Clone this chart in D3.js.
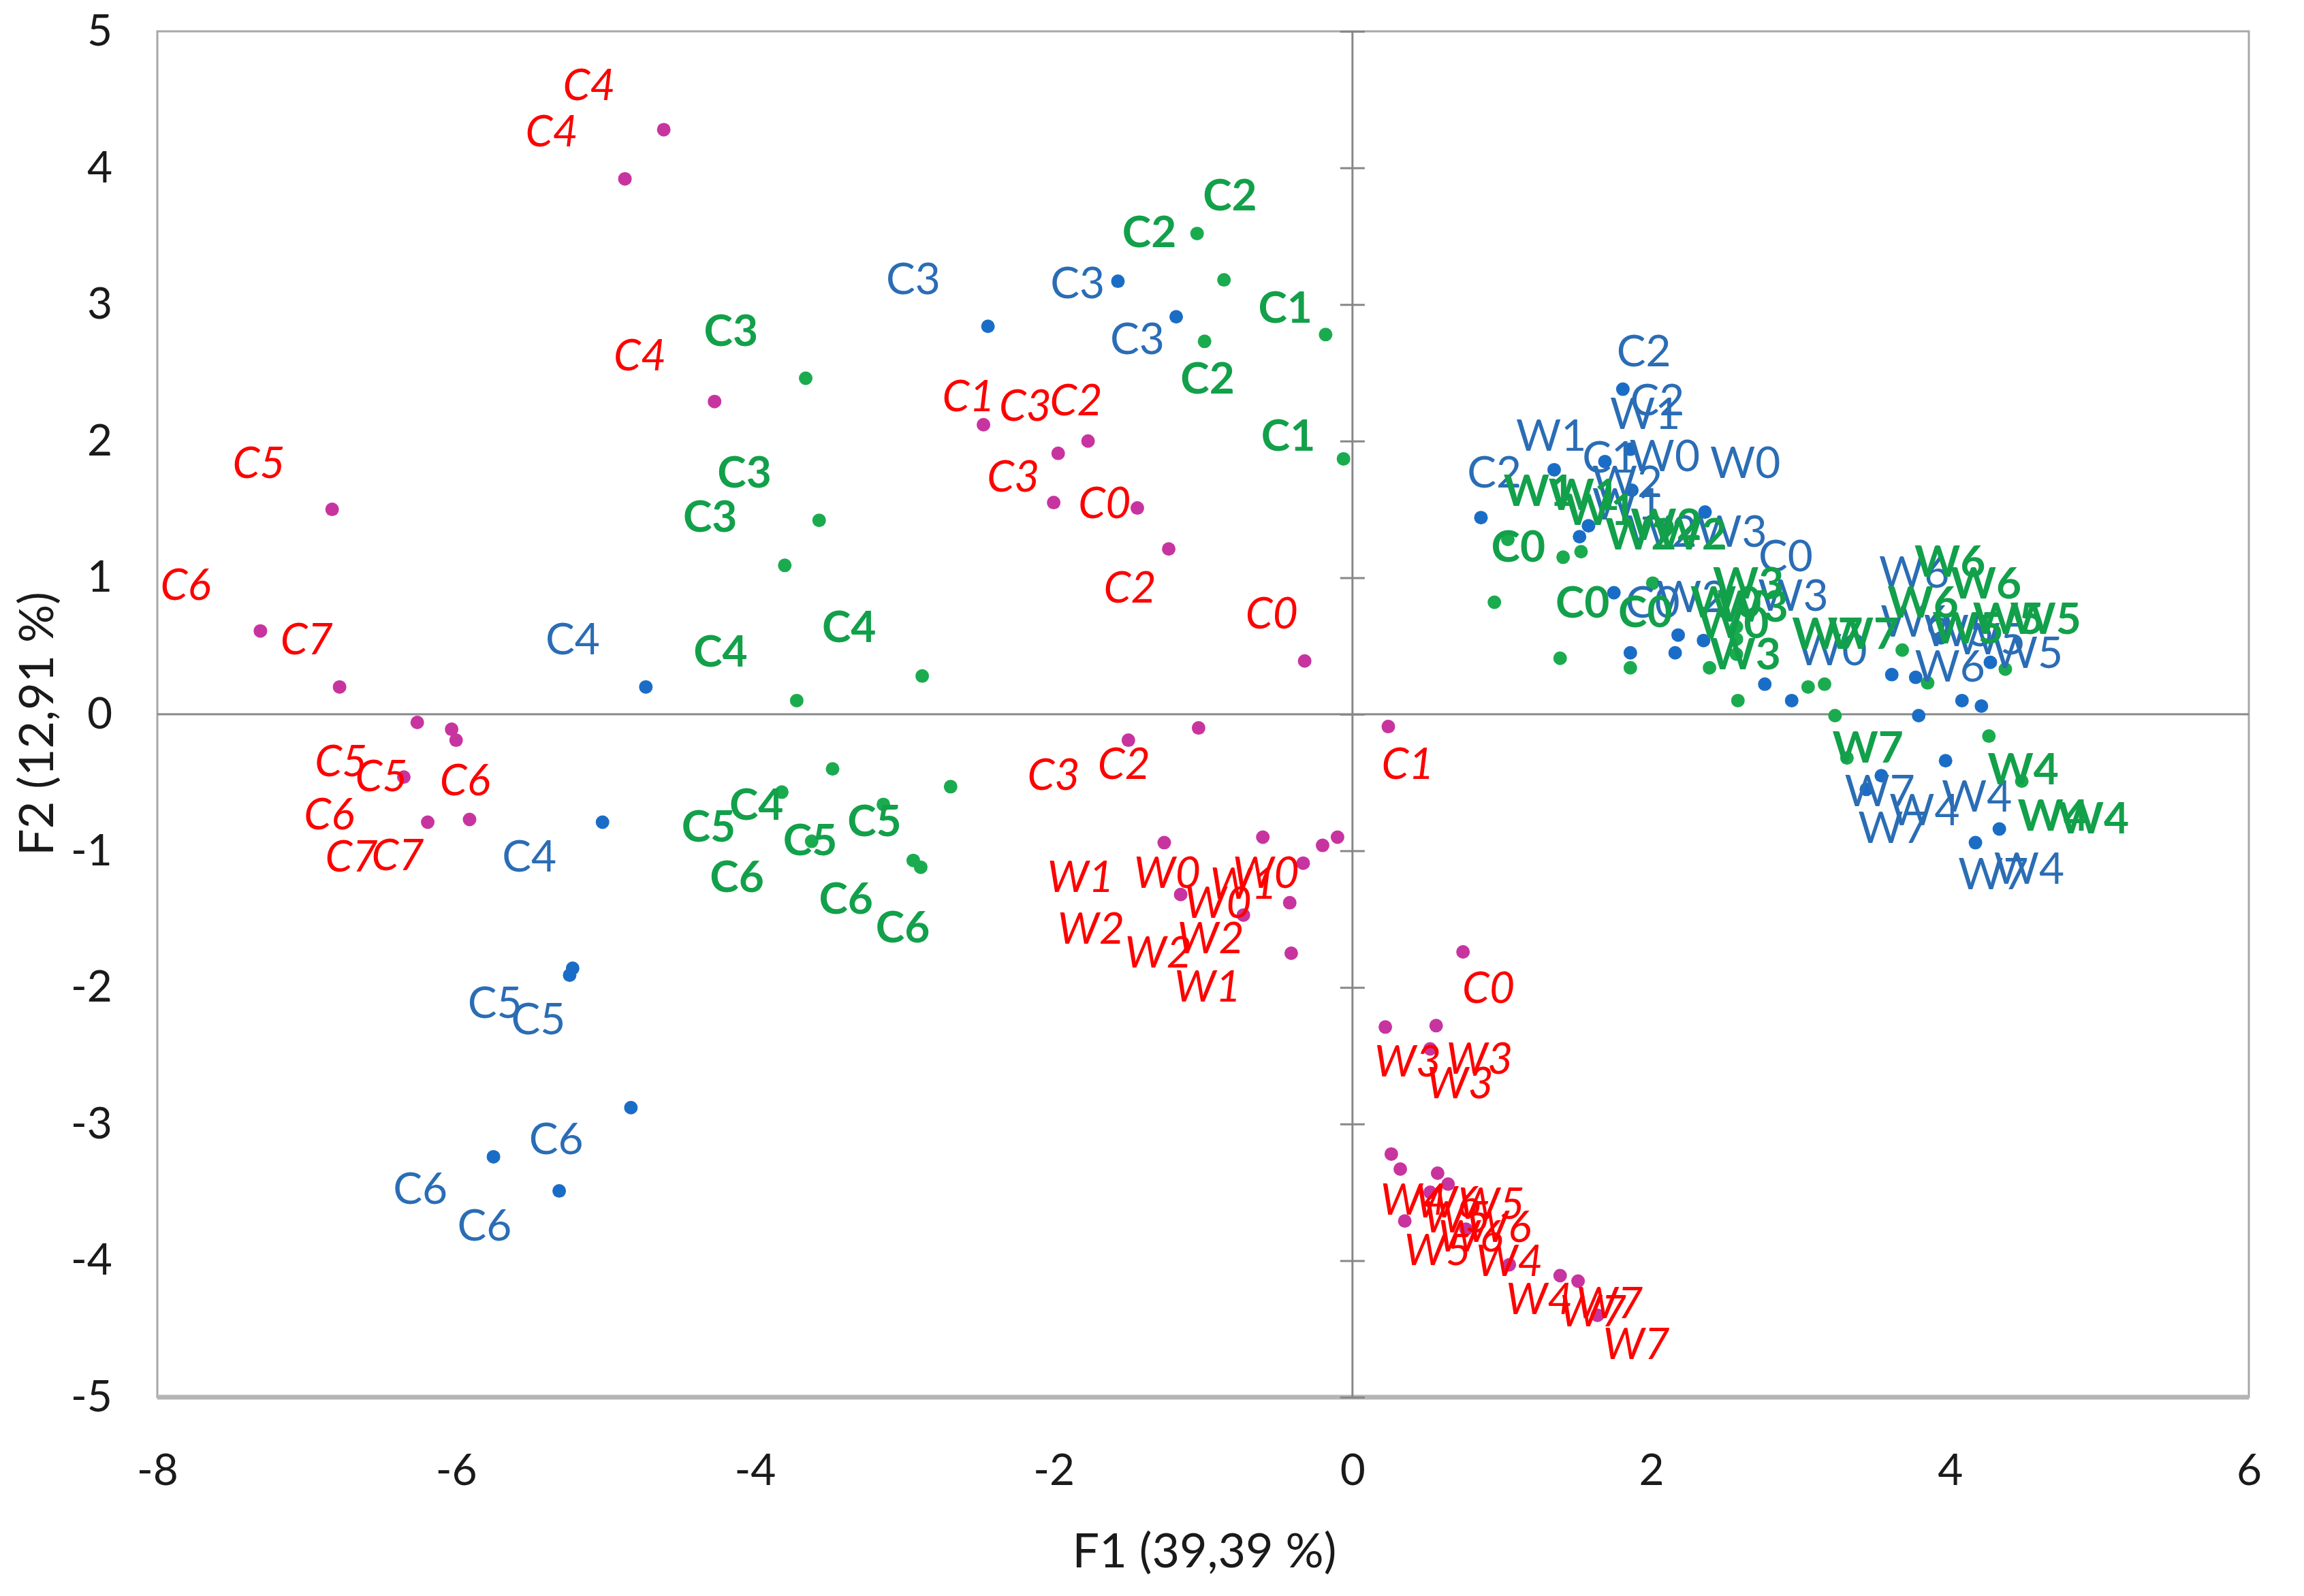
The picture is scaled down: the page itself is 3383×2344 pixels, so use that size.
<!DOCTYPE html>
<html>
<head>
<meta charset="utf-8">
<script src="https://cdn.jsdelivr.net/npm/d3@7"></script>
<style>
  html, body { margin: 0; padding: 0; background: #fff; }
  svg text { font-family: Lato, "Open Sans", sans-serif; }
</style>
</head>
<body>
<svg id="chart" width="3383" height="2344"></svg>
<script>
// axis ticks
const xTicks = [-8, -6, -4, -2, 0, 2, 4, 6];
const yTicks = [-5, -4, -3, -2, -1, 0, 1, 2, 3, 4, 5];
const xTitle = "F1 (39,39 %)";
const yTitle = "F2 (12,91 %)";

// red series (italic labels, magenta markers)
const redPoints = [
  [-4.61, 4.28], [-4.87, 3.92], [-6.83, 1.50], [-7.31, 0.61], [-6.78, 0.20],
  [-6.26, -0.06], [-6.03, -0.11], [-6.00, -0.19], [-6.35, -0.46], [-6.19, -0.79], [-5.91, -0.77],
  [-4.27, 2.29], [-2.47, 2.12], [-1.97, 1.91], [-1.77, 2.00], [-2.00, 1.55], [-1.44, 1.51], [-1.23, 1.21], [-0.32, 0.39],
  [-1.03, -0.10], [-1.50, -0.19], [0.24, -0.09], [0.74, -1.74],
  [-1.26, -0.94], [-0.60, -0.90], [-0.33, -1.09], [-0.20, -0.96], [-0.10, -0.90], [-1.15, -1.32], [-0.73, -1.47], [-0.42, -1.38], [-0.41, -1.75],
  [0.22, -2.29], [0.56, -2.28], [0.52, -2.45],
  [0.26, -3.22], [0.32, -3.33], [0.57, -3.36], [0.64, -3.44], [0.52, -3.50], [0.35, -3.71], [0.76, -3.77],
  [1.05, -4.03], [1.39, -4.11], [1.51, -4.15], [1.64, -4.40]
];
const redLabels = [
  ["C4", -5.11, 4.62], ["C4", -5.36, 4.28], ["C4", -4.77, 2.64], ["C5", -7.32, 1.85], ["C6", -7.81, 0.96], ["C7", -7.00, 0.56],
  ["C5", -6.77, -0.33], ["C5", -6.50, -0.44], ["C6", -5.94, -0.47], ["C6", -6.85, -0.72], ["C7", -6.70, -1.03], ["C7", -6.39, -1.02],
  ["C1", -2.57, 2.34], ["C3", -2.19, 2.27], ["C2", -1.85, 2.31], ["C3", -2.27, 1.75], ["C0", -1.66, 1.56], ["C2", -1.49, 0.94], ["C0", -0.54, 0.75],
  ["C3", -2.00, -0.43], ["C2", -1.53, -0.35], ["C1", 0.37, -0.35], ["C0", 0.91, -1.99],
  ["W1", -1.82, -1.18], ["W0", -1.24, -1.15], ["W0", -0.58, -1.15], ["W1", -0.73, -1.23], ["W0", -0.90, -1.37],
  ["W2", -1.75, -1.56], ["W2", -1.30, -1.73], ["W2", -0.95, -1.63], ["W1", -0.97, -1.98],
  ["W3", 0.37, -2.53], ["W3", 0.85, -2.51], ["W3", 0.72, -2.69],
  ["W4", 0.41, -3.54], ["W5", 0.93, -3.57], ["W5", 0.70, -3.67], ["W5", 0.57, -3.91], ["W6", 0.98, -3.74], ["W6", 0.79, -3.81],
  ["W6", 0.64, -3.56], ["W4", 1.05, -3.99], ["W4", 1.25, -4.27], ["W7", 1.72, -4.30], ["W7", 1.90, -4.60], ["W7", 1.61, -4.36]
];

// blue series
const bluePoints = [
  [-4.73, 0.20], [-5.02, -0.79], [-5.22, -1.86], [-5.24, -1.91], [-4.83, -2.88], [-5.75, -3.24], [-5.31, -3.49],
  [-1.57, 3.17], [-1.18, 2.91], [-2.44, 2.84],
  [1.81, 2.38], [1.35, 1.79], [0.86, 1.44], [1.69, 1.85], [1.86, 1.94], [1.58, 1.38], [1.52, 1.30], [2.36, 1.48],
  [1.87, 1.64], [1.75, 0.89], [2.18, 0.58], [2.16, 0.45], [2.35, 0.54], [1.86, 0.45], [2.76, 0.22], [2.94, 0.10],
  [3.61, 0.29], [3.77, 0.27], [3.79, -0.01], [4.08, 0.10], [4.21, 0.06], [3.94, 0.56], [4.27, 0.38],
  [3.97, -0.34], [3.54, -0.45], [3.44, -0.55], [4.33, -0.84], [4.17, -0.94]
];
const blueLabels = [
  ["C4", -5.22, 0.56], ["C4", -5.51, -1.03], ["C5", -5.74, -2.10], ["C5", -5.45, -2.22],
  ["C6", -5.33, -3.10], ["C6", -6.24, -3.46], ["C6", -5.81, -3.73],
  ["C3", -2.94, 3.20], ["C3", -1.84, 3.17], ["C3", -1.44, 2.76],
  ["C2", 1.95, 2.67], ["C2", 2.04, 2.31], ["C2", 0.95, 1.78], ["C1", 1.72, 1.89],
  ["W1", 1.96, 2.21], ["W1", 1.33, 2.05], ["W1", 1.84, 1.55],
  ["W0", 2.09, 1.90], ["W0", 2.63, 1.85], ["W0", 3.21, 0.48],
  ["W2", 1.84, 1.71], ["W2", 2.07, 1.35], ["W2", 2.27, 0.87],
  ["W3", 2.54, 1.35], ["W3", 2.95, 0.88], ["C0", 2.90, 1.17], ["C0", 2.01, 0.83],
  ["W6", 3.76, 1.05], ["W6", 3.77, 0.69], ["W6", 4.00, 0.36],
  ["W5", 4.52, 0.46], ["W5", 4.27, 0.56], ["W5", 4.06, 0.62],
  ["W7", 3.53, -0.55], ["W7", 3.62, -0.82], ["W7", 4.29, -1.16],
  ["W4", 3.83, -0.69], ["W4", 4.18, -0.59], ["W4", 4.53, -1.12]
];

// green series (bold labels)
const greenPoints = [
  [-1.04, 3.52], [-0.86, 3.18], [-0.99, 2.73], [-0.18, 2.78], [-0.06, 1.87],
  [-3.66, 2.46], [-3.57, 1.42], [-3.80, 1.09], [-2.88, 0.28], [-3.72, 0.10],
  [-3.48, -0.40], [-2.69, -0.53], [-3.82, -0.57], [-3.62, -0.93], [-2.94, -1.07], [-2.89, -1.12], [-3.14, -0.66],
  [1.04, 1.28], [0.95, 0.82], [1.41, 1.15], [1.53, 1.19], [1.39, 0.41], [1.86, 0.34], [2.01, 0.96], [2.39, 0.34],
  [2.58, 0.10], [3.05, 0.20], [3.16, 0.22], [2.57, 0.64], [2.57, 0.55], [2.57, 0.44], [3.23, -0.01],
  [3.31, -0.32], [3.68, 0.47], [3.85, 0.23], [4.26, -0.16], [4.37, 0.33], [4.48, -0.49]
];
const greenLabels = [
  ["C2", -0.82, 3.81], ["C2", -1.36, 3.54], ["C1", -0.45, 2.99], ["C2", -0.97, 2.47], ["C1", -0.43, 2.05],
  ["C3", -4.16, 2.82], ["C3", -4.07, 1.78], ["C3", -4.30, 1.46], ["C4", -3.37, 0.65], ["C4", -4.23, 0.47],
  ["C5", -4.31, -0.81], ["C4", -3.99, -0.65], ["C5", -3.63, -0.91], ["C5", -3.20, -0.77],
  ["C6", -4.12, -1.18], ["C6", -3.39, -1.34], ["C6", -3.01, -1.55],
  ["C0", 1.11, 1.24], ["C0", 1.54, 0.83], ["C0", 1.96, 0.76],
  ["W1", 1.25, 1.65], ["W1", 1.66, 1.51], ["W1", 1.55, 1.62],
  ["W2", 1.93, 1.33], ["W2", 2.27, 1.33], ["W2", 2.10, 1.40],
  ["W0", 2.50, 0.83], ["W0", 2.55, 0.68], ["W3", 2.65, 0.97], ["W3", 2.68, 0.80], ["W3", 2.63, 0.45],
  ["W7", 3.18, 0.60], ["W7", 3.42, 0.60], ["W7", 3.45, -0.23],
  ["W6", 4.00, 1.13], ["W6", 4.24, 0.97], ["W6", 3.82, 0.83],
  ["W5", 4.64, 0.71], ["W5", 4.39, 0.71], ["W5", 4.12, 0.64],
  ["W4", 4.49, -0.39], ["W4", 4.69, -0.73], ["W4", 4.96, -0.75]
];

const svg = d3.select("#chart");
const width = +svg.attr("width");
const height = +svg.attr("height");
const margin = {top: 46, right: 81, bottom: 292, left: 231};
const fontSize = 64;
const titleSize = 70;

const x = d3.scaleLinear().domain([-8, 6]).range([margin.left, width - margin.right]);
const y = d3.scaleLinear().domain([-5, 5]).range([height - margin.bottom, margin.top]);

svg.append("rect").attr("width", width).attr("height", height).attr("fill", "#fff");

// frame
svg.append("rect")
  .attr("x", x(-8)).attr("y", y(5))
  .attr("width", x(6) - x(-8)).attr("height", y(-5) - y(5))
  .attr("fill", "none").attr("stroke", "#a8a8a8").attr("stroke-width", 3);
svg.append("line")
  .attr("x1", x(-8)).attr("x2", x(6)).attr("y1", y(-5)).attr("y2", y(-5))
  .attr("stroke", "#b5b5b5").attr("stroke-width", 7);

// zero lines
svg.append("line")
  .attr("x1", x(-8)).attr("x2", x(6)).attr("y1", y(0)).attr("y2", y(0))
  .attr("stroke", "#878787").attr("stroke-width", 3);
svg.append("line")
  .attr("x1", x(0)).attr("x2", x(0)).attr("y1", y(5)).attr("y2", y(-5))
  .attr("stroke", "#878787").attr("stroke-width", 3);

// tick marks across the vertical zero line
svg.append("g")
  .attr("transform", `translate(${x(0) + 18},0)`)
  .call(d3.axisLeft(y).tickValues(yTicks).tickSize(36).tickFormat(""))
  .call(g => g.select(".domain").remove())
  .call(g => g.selectAll("line").attr("stroke", "#878787").attr("stroke-width", 3));

// y tick labels
svg.append("g")
  .attr("transform", `translate(${margin.left},0)`)
  .call(d3.axisLeft(y).tickValues(yTicks).tickSize(0).tickPadding(66).tickFormat(d => String(d)))
  .call(g => g.select(".domain").remove())
  .call(g => g.selectAll("text").attr("font-size", fontSize).attr("fill", "#1a1a1a")
    .attr("font-family", "Lato, 'Open Sans', sans-serif"));

// x tick labels
svg.append("g")
  .attr("transform", `translate(0,${y(-5)})`)
  .call(d3.axisBottom(x).tickValues(xTicks).tickSize(0).tickPadding(84).tickFormat(d => String(d)))
  .call(g => g.select(".domain").remove())
  .call(g => g.selectAll("text").attr("font-size", fontSize).attr("fill", "#1a1a1a")
    .attr("font-family", "Lato, 'Open Sans', sans-serif"));

// axis titles
svg.append("text")
  .attr("x", (x(-8) + x(6)) / 2 + 2).attr("y", 2302)
  .attr("text-anchor", "middle").attr("font-size", titleSize).attr("fill", "#1a1a1a")
  .text(xTitle);
svg.append("text")
  .attr("transform", `translate(78,${(y(5) + y(-5)) / 2 + 14}) rotate(-90)`)
  .attr("text-anchor", "middle").attr("font-size", titleSize).attr("fill", "#1a1a1a")
  .text(yTitle);

const series = [
  {points: redPoints, labels: redLabels, dot: "#c8349f", text: "#ff0000", style: "italic", weight: "normal"},
  {points: bluePoints, labels: blueLabels, dot: "#1a6dc6", text: "#2a6db5", style: "normal", weight: "normal"},
  {points: greenPoints, labels: greenLabels, dot: "#1aab4e", text: "#12a04a", style: "normal", weight: "bold"}
];

// markers
series.forEach(s => {
  svg.append("g").selectAll("circle")
    .data(s.points)
    .enter().append("circle")
    .attr("cx", d => x(d[0]))
    .attr("cy", d => y(d[1]))
    .attr("r", 10)
    .attr("fill", s.dot);
});

// data labels
series.forEach(s => {
  svg.append("g").selectAll("text")
    .data(s.labels)
    .enter().append("text")
    .attr("x", d => x(d[1]))
    .attr("y", d => y(d[2]))
    .attr("text-anchor", "middle")
    .attr("dominant-baseline", "central")
    .attr("font-size", fontSize)
    .attr("font-style", s.style)
    .attr("font-weight", s.weight)
    .attr("fill", s.text)
    .text(d => d[0]);
});
</script>
</body>
</html>
